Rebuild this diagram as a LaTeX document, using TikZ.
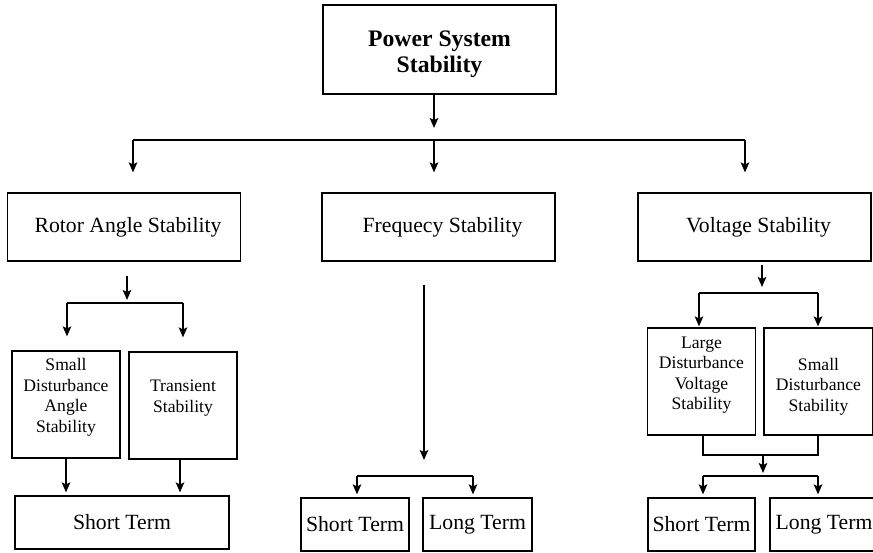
\documentclass[tikz,border=0pt]{standalone}
\usepackage{fontspec}
\setmainfont{Liberation Serif}
\usetikzlibrary{arrows.meta}
\tikzset{%
  every path/.style={line width=1.7pt},
    edge/.style={%
        -{Stealth[length=10pt,width=8.5pt,inset=2pt]},
    },
    topbox/.style={%
        rectangle,
        draw=black, line width=1.2pt,
        minimum width=233pt,
        minimum height=89pt,
        inner sep=0pt,
        align=center,
        font=\fontsize{23.7}{25.6}\selectfont\bfseries,
    },
    mainbox/.style={%
        rectangle,
        draw=black, line width=1.2pt,
        minimum width=233pt,
        minimum height=68pt,
        inner sep=0pt,
        align=center,
        font=\fontsize{21.7}{26}\selectfont,
    },
    subbox/.style={%
        rectangle,
        draw=black, line width=1.2pt,
        minimum width=108pt,
        minimum height=107pt,
        inner sep=0pt,
        align=center,
        font=\fontsize{17.6}{20.5}\selectfont,
    },
    termbox/.style={%
        rectangle,
        draw=black, line width=1.2pt,
        minimum width=108pt,
        minimum height=53pt,
        inner sep=0pt,
        align=center,
        font=\fontsize{21.7}{26}\selectfont,
    },
}

\begin{document}
\begin{tikzpicture}[x=1pt, y=-1pt]
	\useasboundingbox (0,0) rectangle (873,553);

	\coordinate (pss_tip) at (434, 128);
	\coordinate (bus_w) at (133, 140);
	\coordinate (bus_c) at (434, 140);
	\coordinate (bus_e) at (745, 140);

	\coordinate (ra_split) at (127, 303);
	\coordinate (ra_l) at (67, 303);
	\coordinate (ra_r) at (183, 303);

	\coordinate (fr_split) at (424, 476);
	\coordinate (fr_l) at (357, 476);
	\coordinate (fr_r) at (473, 476);

	\coordinate (vs_split) at (762, 293);
	\coordinate (vs_l) at (699, 293);
	\coordinate (vs_r) at (818, 293);
	\coordinate (vs_join) at (763, 455);
	\coordinate (vs_bus) at (763, 476);
	\coordinate (vs_bl) at (703, 476);
	\coordinate (vs_br) at (818, 476);

	\node [topbox] at (439.5, 49.5) (pss) {\mbox{}\\[0pt]Power System\\Stability};

	\node [mainbox] at (124, 227) (rotor) {\hspace*{8pt}Rotor Angle Stability};
	\node [mainbox] at (438.5, 227) (freq) {\hspace*{8pt}Frequecy Stability};
	\node [mainbox] at (754.5, 227) (volt) {\hspace*{8pt}Voltage Stability};

	\node [subbox] at (66, 404.5) (sdas) {Small\\Disturbance\\Angle\\Stability\\[-2pt]};
	\node [subbox] at (183, 405.5) (trans) {Transient\\Stability\\[-2pt]};
	\node [subbox] at (701.5, 381.5) (ldvs) {Large\\Disturbance\\Voltage\\Stability\\[-4pt]};
	\node [subbox, minimum width=109pt] at (818.5, 381.5) (sdvs) {\mbox{}\\[2pt]Small\\Disturbance\\Stability};

	\node [termbox, minimum width=214pt] at (122, 522.5) (ra_short) {Short Term};
	\node [termbox] at (355, 524.5) (fr_short) {Short Term};
	\node [termbox, minimum width=109pt] at (477.5, 524.5) (fr_long) {Long Term};
	\node [termbox, minimum width=107pt] at (701.5, 524.5) (vs_short) {Short Term};
	\node [termbox] at (824, 524.5) (vs_long) {Long Term};

	% top level
	\draw[edge] (pss.south -| pss_tip) -- (pss_tip);
	\draw (bus_w) -- (bus_e);
	\draw[edge, shorten >=20pt] (bus_w) -- (bus_w |- rotor.north);
	\draw[edge, shorten >=20pt] (bus_c) -- (bus_c |- freq.north);
	\draw[edge, shorten >=20pt] (bus_e) -- (bus_e |- volt.north);

	% rotor angle
	\draw[edge, shorten <=14pt, shorten >=3pt] (rotor.south -| ra_split) -- (ra_split);
	\draw (ra_l) -- (ra_r);
	\draw[edge, shorten >=14pt] (ra_l) -- (ra_l |- sdas.north);
	\draw[edge, shorten >=14pt] (ra_r) -- (ra_r |- trans.north);
	\draw[edge, shorten >=3pt] (sdas.south) -- (sdas.south |- ra_short.north);
	\draw[edge, shorten >=3pt] ([xshift=-3pt]trans.south) -- ([xshift=-3pt]trans.south |- ra_short.north);

	% frequency
	\draw[edge, shorten <=23pt, shorten >=16pt] (freq.south -| fr_split) -- (fr_split);
	\draw (fr_l) -- (fr_r);
	\draw[edge, shorten >=3pt] (fr_l) -- (fr_l |- fr_short.north);
	\draw[edge, shorten >=3pt] (fr_r) -- (fr_r |- fr_long.north);

	% voltage
	\draw[edge, shorten <=3pt, shorten >=6pt] (volt.south -| vs_split) -- (vs_split);
	\draw (vs_l) -- (vs_r);
	\draw[edge, shorten >=1pt] (vs_l) -- (vs_l |- ldvs.north);
	\draw[edge, shorten >=1pt] (vs_r) -- (vs_r |- sdvs.north);
	\draw (ldvs.south -| vs_bl) |- (vs_join) -| (sdvs.south -| vs_br);
	\draw[edge, shorten >=3pt] (vs_join) -- (vs_bus);
	\draw (vs_bl) -- (vs_br);
	\draw[edge, shorten >=3pt] (vs_bl) -- (vs_bl |- vs_short.north);
	\draw[edge, shorten >=3pt] (vs_br) -- (vs_br |- vs_long.north);
\end{tikzpicture}
\end{document}
